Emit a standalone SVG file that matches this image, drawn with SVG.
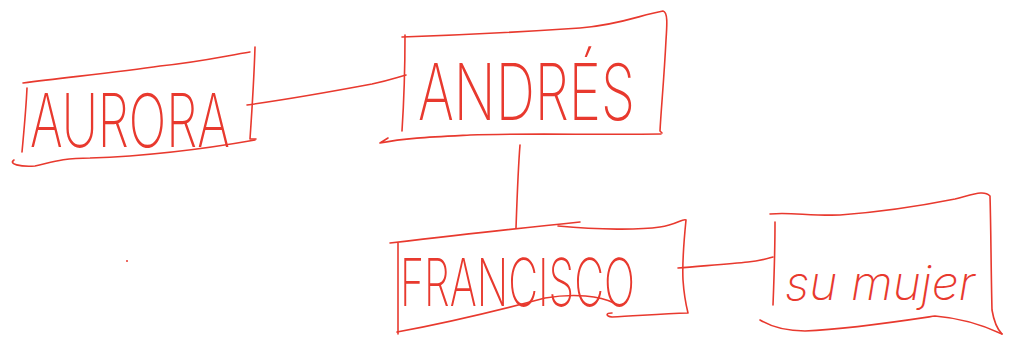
<svg xmlns="http://www.w3.org/2000/svg" width="1011" height="337" viewBox="0 0 1011 337">
<style>
.ln{fill:none;stroke:#e8392e;stroke-width:1.6;stroke-linecap:round;stroke-linejoin:round}
.lb{fill:#e8392e;font-family:Inter,"Liberation Sans",sans-serif;font-weight:200}
.cu{fill:#e8392e;font-family:Inter,"Liberation Sans",sans-serif;font-weight:200;font-style:italic}
</style>
<rect width="1011" height="337" fill="#ffffff"/>
<g id="connectors">
<path class="ln" d="M247,105 C290,99 340,90 372,84 C390,80 398,77 406,75"/>
<path class="ln" d="M520,145 C518,170 517,200 516,228"/>
<path class="ln" d="M678,268 C700,266 730,264 748,262 C760,261 766,259 773,257"/>
</g>
<g id="aurora">
<path class="ln" d="M23,83 C70,77 120,72 160,66 C200,62 225,56 250,52"/>
<path class="ln" d="M255,47 C254,80 252,110 250,139 L256,139"/>
<path class="ln" d="M255,140 C210,148 150,156 90,158 C60,158 50,163 35,166 C20,167 8,164 14,160"/>
<path class="ln" d="M27,88 C26,110 24,130 22,152"/>
<text class="lb" x="30" y="147" font-size="74" textLength="200" lengthAdjust="spacingAndGlyphs">AURORA</text>
</g>
<g id="andres">
<path class="ln" d="M402,37 C460,35 520,32 580,28 C620,25 640,15 663,11 C668,12 667,25 666,40 C664,80 661,110 660,131 L662,133"/>
<path class="ln" d="M661,134 C600,135 520,133 470,135 C430,137 405,138 380,143 L388,138"/>
<path class="ln" d="M405,35 C405,70 404,100 402,131"/>
<text class="lb" x="418" y="120" font-size="78" textLength="217" lengthAdjust="spacingAndGlyphs">ANDRÉS</text>
</g>
<g id="francisco">
<path class="ln" d="M390,243 C450,236 520,228 580,222"/>
<path class="ln" d="M558,226 C600,230 640,230 660,227 C676,225 683,218 686,220 C684,240 682,260 683,280 C684,295 686,305 688,313 C660,314 635,316 612,317 C605,316 606,313 612,313"/>
<path class="ln" d="M397,332 C440,324 500,310 545,298 C575,293 600,296 614,303"/>
<path class="ln" d="M398,243 L398,334"/>
<text class="lb" x="400" y="306" font-size="66" textLength="235" lengthAdjust="spacingAndGlyphs">FRANCISCO</text>
</g>
<g id="su-mujer">
<path class="ln" d="M770,214 C790,212 810,216 840,215 C880,212 920,206 955,199 C975,194 984,190 990,196 C991,230 991,270 992,310 C994,322 998,330 1002,334"/>
<path class="ln" d="M760,320 C770,326 785,331 805,331 C850,329 895,322 935,316 C960,318 985,326 1002,334"/>
<path class="ln" d="M775,222 C775,250 774,280 773,305"/>
<text class="cu" x="880" y="300" font-size="48" text-anchor="middle">su mujer</text>
</g>
<circle cx="127" cy="261" r="1" fill="#e8392e"/>
</svg>
